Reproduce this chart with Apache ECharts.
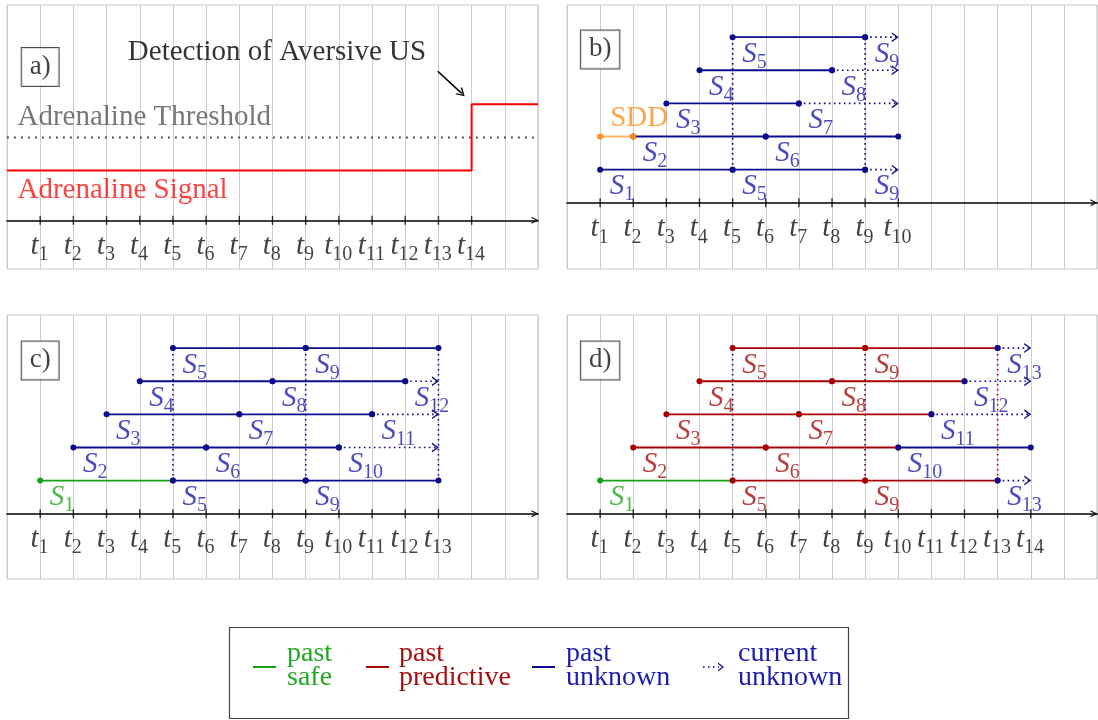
<!DOCTYPE html>
<html>
<head>
<meta charset="utf-8">
<script src="https://cdn.jsdelivr.net/npm/echarts@6/dist/echarts.min.js"></script>
<style>
  html, body { margin: 0; padding: 0; background: #ffffff; }
  #chart { width: 1098px; height: 720px; }
</style>
</head>
<body>
<div id="chart"></div>
<script>
// ---------------- data ----------------
// time steps labelled on each panel's axis
const ticksA = [1, 2, 3, 4, 5, 6, 7, 8, 9, 10, 11, 12, 13, 14];
const ticksB = [1, 2, 3, 4, 5, 6, 7, 8, 9, 10];
const ticksC = [1, 2, 3, 4, 5, 6, 7, 8, 9, 10, 11, 12, 13];
const ticksD = [1, 2, 3, 4, 5, 6, 7, 8, 9, 10, 11, 12, 13, 14];

// panel a: adrenaline signal (time, level) and threshold level
const adrenalineTime  = [0, 14, 14, 16];
const adrenalineLevel = [1.5, 1.5, 3.5, 3.5];
const thresholdLevel  = 2.5;

// sequence segments: [row, from step, to step, status]
const segmentsB = [
  [1, 1, 5, 'unknown'], [1, 5, 9, 'unknown'], [1, 9, 10, 'current'],
  [2, 2, 6, 'unknown'], [2, 6, 10, 'unknown'], [2, 1, 2, 'sdd'],
  [3, 3, 7, 'unknown'], [3, 7, 10, 'current'],
  [4, 4, 8, 'unknown'], [4, 8, 10, 'current'],
  [5, 5, 9, 'unknown'], [5, 9, 10, 'current']
];
const segmentsC = [
  [1, 1, 5, 'safe'], [1, 5, 9, 'unknown'], [1, 9, 13, 'unknown'],
  [2, 2, 6, 'unknown'], [2, 6, 10, 'unknown'], [2, 10, 13, 'current'],
  [3, 3, 7, 'unknown'], [3, 7, 11, 'unknown'], [3, 11, 13, 'current'],
  [4, 4, 8, 'unknown'], [4, 8, 12, 'unknown'], [4, 12, 13, 'current'],
  [5, 5, 9, 'unknown'], [5, 9, 13, 'unknown']
];
const segmentsD = [
  [1, 1, 5, 'safe'], [1, 5, 9, 'predictive'], [1, 9, 13, 'predictive'], [1, 13, 14, 'current'],
  [2, 2, 6, 'predictive'], [2, 6, 10, 'predictive'], [2, 10, 14, 'unknown'],
  [3, 3, 7, 'predictive'], [3, 7, 11, 'predictive'], [3, 11, 14, 'current'],
  [4, 4, 8, 'predictive'], [4, 8, 12, 'predictive'], [4, 12, 14, 'current'],
  [5, 5, 9, 'predictive'], [5, 9, 13, 'predictive'], [5, 13, 14, 'current']
];

// vertical links between rows: [step, from row, to row, status]
const linksB = [[5, 1, 5, 'unknown'], [9, 1, 5, 'unknown']];
const linksC = [[5, 1, 5, 'unknown'], [9, 1, 5, 'unknown'], [13, 1, 5, 'unknown']];
const linksD = [[5, 1, 5, 'unknown'], [9, 1, 5, 'predictive'], [9, 1, 5, 'unknown'], [13, 1, 5, 'predictive']];

// sequence names S_i: [row, step, index, status]
const labelsB = [
  [1, 1, 1, 'unknown'], [1, 5, 5, 'unknown'], [1, 9, 9, 'unknown'],
  [2, 2, 2, 'unknown'], [2, 6, 6, 'unknown'],
  [3, 3, 3, 'unknown'], [3, 7, 7, 'unknown'],
  [4, 4, 4, 'unknown'], [4, 8, 8, 'unknown'],
  [5, 5, 5, 'unknown'], [5, 9, 9, 'unknown']
];
const labelsC = [
  [1, 1, 1, 'safe'], [1, 5, 5, 'unknown'], [1, 9, 9, 'unknown'],
  [2, 2, 2, 'unknown'], [2, 6, 6, 'unknown'], [2, 10, 10, 'unknown'],
  [3, 3, 3, 'unknown'], [3, 7, 7, 'unknown'], [3, 11, 11, 'unknown'],
  [4, 4, 4, 'unknown'], [4, 8, 8, 'unknown'], [4, 12, 12, 'unknown'],
  [5, 5, 5, 'unknown'], [5, 9, 9, 'unknown']
];
const labelsD = [
  [1, 1, 1, 'safe'], [1, 5, 5, 'predictive'], [1, 9, 9, 'predictive'], [1, 13, 13, 'unknown'],
  [2, 2, 2, 'predictive'], [2, 6, 6, 'predictive'], [2, 10, 10, 'unknown'],
  [3, 3, 3, 'predictive'], [3, 7, 7, 'predictive'], [3, 11, 11, 'unknown'],
  [4, 4, 4, 'predictive'], [4, 8, 8, 'predictive'], [4, 12, 12, 'unknown'],
  [5, 5, 5, 'predictive'], [5, 9, 9, 'predictive'], [5, 13, 13, 'unknown']
];

const panelTags = ['a)', 'b)', 'c)', 'd)'];

const legendEntries = [
  { status: 'safe',       lines: ['past', 'safe'] },
  { status: 'predictive', lines: ['past', 'predictive'] },
  { status: 'unknown',    lines: ['past', 'unknown'] },
  { status: 'current',    lines: ['current', 'unknown'] }
];

// ---------------- styling ----------------
const SERIF = '"Liberation Serif", "Times New Roman", serif';
const FS = 29;
const COLORS = {
  safe:       { line: '#16a016', dot: '#16a016', text: '#22a822' },
  predictive: { line: '#a80000', dot: '#a80000', text: '#a80f0f' },
  unknown:    { line: '#0b0b8e', dot: '#0b0b8e', text: '#1d1dac' },
  current:    { line: '#0b0b8e', dot: '#0b0b8e', text: '#1d1dac' },
  sdd:        { line: '#ffb265', dot: '#ff8c1a', text: '#ff8c1a' }
};
const CHEVRON_RIGHT = 'path://M0,0 L10,5 L0,10 L0,8.3 L6.8,5 L0,1.7 Z';
const CHEVRON_UP = 'path://M0,10 L5,0 L10,10 L8.3,10 L5,3.2 L1.7,10 Z';
const DOT_DASH = [1.6, 3.4];

const GRIDS = [
  { left: 7,   top: 5,   width: 531, height: 264 },
  { left: 567, top: 5,   width: 530, height: 264 },
  { left: 7,   top: 315, width: 531, height: 264 },
  { left: 567, top: 315, width: 530, height: 264 }
];
const Y_RANGES = [[-1.47, 6.5], [-2.0, 5.97], [-1.97, 6.0], [-1.97, 6.0]];
const TICKS = [ticksA, ticksB, ticksC, ticksD];

// italic symbol followed by an upright subscript
function mathRich(color) {
  return {
    m: { fontFamily: SERIF, fontStyle: 'italic', fontSize: FS, verticalAlign: 'top', color: color },
    s: { fontFamily: SERIF, fontSize: 20, verticalAlign: 'top', padding: [13, 0, 0, 0], color: color }
  };
}

const series = [];

function lineSeries(gi, data, lineStyle, extra) {
  return Object.assign({
    type: 'line', xAxisIndex: gi, yAxisIndex: gi,
    data: data, symbol: 'none', lineStyle: lineStyle,
    silent: true, animation: false, z: 3
  }, extra || {});
}

function addLinks(gi, links) {
  links.forEach(function (l) {
    const c = COLORS[l[3]];
    // where a predictive and an unknown link coincide, the unknown one is drawn translucent on top
    const shared = links.some(function (o) { return o !== l && o[0] === l[0]; });
    series.push(lineSeries(gi, [[l[0], l[1]], [l[0], l[2]]],
      { color: c.line, width: 1.6, type: DOT_DASH, opacity: shared && l[3] === 'unknown' ? 0.5 : 1 },
      { z: 2 }));
  });
}

function addSegments(gi, segments) {
  segments.forEach(function (s) {
    const c = COLORS[s[3]];
    if (s[3] === 'current') {
      series.push(lineSeries(gi, [
        { value: [s[1], s[0]], symbol: 'circle', symbolSize: 6 },
        { value: [s[2], s[0]], symbol: CHEVRON_RIGHT, symbolSize: [7, 10], symbolOffset: [-3, 0] }
      ], { color: c.line, width: 1.6, type: DOT_DASH },
      { itemStyle: { color: c.dot }, showSymbol: true }));
    } else {
      series.push(lineSeries(gi, [[s[1], s[0]], [s[2], s[0]]],
        { color: c.line, width: 1.8 },
        { symbol: 'circle', symbolSize: 6, itemStyle: { color: c.dot }, showSymbol: true }));
    }
  });
}

function addLabels(gi, labels) {
  series.push({
    type: 'scatter', xAxisIndex: gi, yAxisIndex: gi, silent: true, animation: false, z: 5,
    symbolSize: 1, itemStyle: { color: 'rgba(0,0,0,0)' },
    data: labels.map(function (l) {
      const col = COLORS[l[3]].text;
      return {
        value: [l[1], l[0]],
        label: {
          show: true, position: [10, 3], align: 'left', verticalAlign: 'top',
          formatter: '{m|S}{s|' + l[2] + '}', rich: mathRich(col)
        }
      };
    })
  });
}

// tick marks crossing the axis and their t_k labels
function addTicks(gi, ticks) {
  series.push({
    type: 'scatter', xAxisIndex: gi, yAxisIndex: gi, silent: true, animation: false, z: 6,
    symbol: 'rect', symbolSize: [1.4, 9], itemStyle: { color: '#000' },
    data: ticks.map(function (t) {
      return {
        value: [t, 0],
        label: {
          show: true, position: [0, 16], align: 'center', verticalAlign: 'top',
          formatter: '{m|t}{s|' + t + '}', rich: mathRich('#111')
        }
      };
    })
  });
}

function addTag(gi) {
  series.push({
    type: 'scatter', xAxisIndex: gi, yAxisIndex: gi, silent: true, animation: false, z: 6,
    symbolSize: 1, itemStyle: { color: 'rgba(0,0,0,0)' },
    data: [{
      value: [1, 4.63],
      label: {
        show: true, position: 'inside', align: 'center', verticalAlign: 'middle',
        formatter: panelTags[gi], fontFamily: SERIF, fontSize: 27, color: '#111',
        borderColor: '#222', borderWidth: 1, padding: [6, 8, 5, 8], backgroundColor: '#fff'
      }
    }]
  });
}

function addTexts(gi, items) {
  series.push({
    type: 'scatter', xAxisIndex: gi, yAxisIndex: gi, silent: true, animation: false, z: 6,
    symbolSize: 1, itemStyle: { color: 'rgba(0,0,0,0)' },
    data: items.map(function (it) {
      return {
        value: it.at,
        label: {
          show: true, position: [0, 0], align: it.align || 'left', verticalAlign: 'middle',
          formatter: it.text, fontFamily: SERIF, fontSize: FS, color: it.color
        }
      };
    })
  });
}

// ---- panel a: adrenaline signal ----
series.push(lineSeries(0, adrenalineTime.map(function (t, i) { return [t, adrenalineLevel[i]]; }),
  { color: '#ff0000', width: 2 }));
series.push(lineSeries(0, [[0, thresholdLevel], [16, thresholdLevel]],
  { color: '#444444', width: 1.8, type: [1.8, 5.2] }, { z: 2 }));
series.push(lineSeries(0, [
  [12.98, 4.50],
  { value: [13.70, 3.83], symbol: CHEVRON_RIGHT, symbolSize: [8, 10], symbolRotate: -43 }
], { color: '#000', width: 1.6 }, { itemStyle: { color: '#000' }, showSymbol: true }));
addTexts(0, [
  { at: [0.33, thresholdLevel + 0.58], text: 'Adrenaline Threshold', color: '#555555' },
  { at: [0.33, adrenalineLevel[0] - 0.6], text: 'Adrenaline Signal', color: '#ff1010' },
  { at: [8.15, 5.05], text: 'Detection of Aversive US', color: '#000', align: 'center' }
]);

// ---- panels b, c, d: sequence diagrams ----
addLinks(1, linksB); addSegments(1, segmentsB); addLabels(1, labelsB);
addTexts(1, [{ at: [1.32, 2.54], text: 'SDD', color: COLORS.sdd.text }]);
addLinks(2, linksC); addSegments(2, segmentsC); addLabels(2, labelsC);
addLinks(3, linksD); addSegments(3, segmentsD); addLabels(3, labelsD);

for (let gi = 0; gi < 4; gi++) { addTicks(gi, TICKS[gi]); addTag(gi); }

// ---------------- axes ----------------
const grid = GRIDS.map(function (g) {
  return Object.assign({ show: true, borderColor: '#c4c4c4', borderWidth: 1, backgroundColor: '#fff', containLabel: false, outerBoundsMode: 'none' }, g);
});
const xAxis = GRIDS.map(function (g, gi) {
  return {
    type: 'value', gridIndex: gi, min: 0, max: 16, interval: 1,
    splitLine: { show: true, lineStyle: { color: '#cdcdcd', width: 1 } },
    axisLine: {
      show: true, onZero: true,
      lineStyle: { color: '#000', width: 1.6 },
      symbol: ['none', CHEVRON_UP], symbolSize: [10, 7], symbolOffset: [0, -3]
    },
    axisTick: { show: false },
    axisLabel: { show: false }
  };
});
const yAxis = GRIDS.map(function (g, gi) {
  return {
    type: 'value', gridIndex: gi, min: Y_RANGES[gi][0], max: Y_RANGES[gi][1],
    show: false, splitLine: { show: false }
  };
});

// ---------------- legend (drawn as graphic) ----------------
const swatchX = [253, 366, 532, 703];
const textX = [287, 399, 566, 738];
const legendGraphic = [{
  type: 'rect', shape: { x: 229.5, y: 627.5, width: 619, height: 91 },
  style: { fill: '#fff', stroke: '#444', lineWidth: 1.2 }, z: 10
}];
legendEntries.forEach(function (e, i) {
  const c = COLORS[e.status];
  if (e.status === 'current') {
    legendGraphic.push({
      type: 'line', shape: { x1: swatchX[i], y1: 667, x2: swatchX[i] + 16, y2: 667 },
      style: { stroke: c.line, lineWidth: 1.6, lineDash: DOT_DASH }, z: 11
    });
    legendGraphic.push({
      type: 'polygon', shape: { points: [[swatchX[i] + 15, 662.5], [swatchX[i] + 21, 667], [swatchX[i] + 15, 671.5], [swatchX[i] + 15, 670], [swatchX[i] + 19, 667], [swatchX[i] + 15, 664]] },
      style: { fill: c.line }, z: 11
    });
  } else {
    legendGraphic.push({
      type: 'line', shape: { x1: swatchX[i], y1: 667, x2: swatchX[i] + 23, y2: 667 },
      style: { stroke: c.line, lineWidth: 2 }, z: 11
    });
  }
  legendGraphic.push({
    type: 'text', x: textX[i], y: 642, z: 11,
    style: {
      text: e.lines.join('\n'), fill: c.text, font: '28px ' + SERIF,
      lineHeight: 24, textVerticalAlign: 'top', textAlign: 'left'
    }
  });
});

const chart = echarts.init(document.getElementById('chart'), null, { renderer: 'canvas' });
chart.setOption({
  backgroundColor: '#ffffff',
  animation: false,
  grid: grid,
  xAxis: xAxis,
  yAxis: yAxis,
  series: series,
  graphic: legendGraphic
});
</script>
</body>
</html>
